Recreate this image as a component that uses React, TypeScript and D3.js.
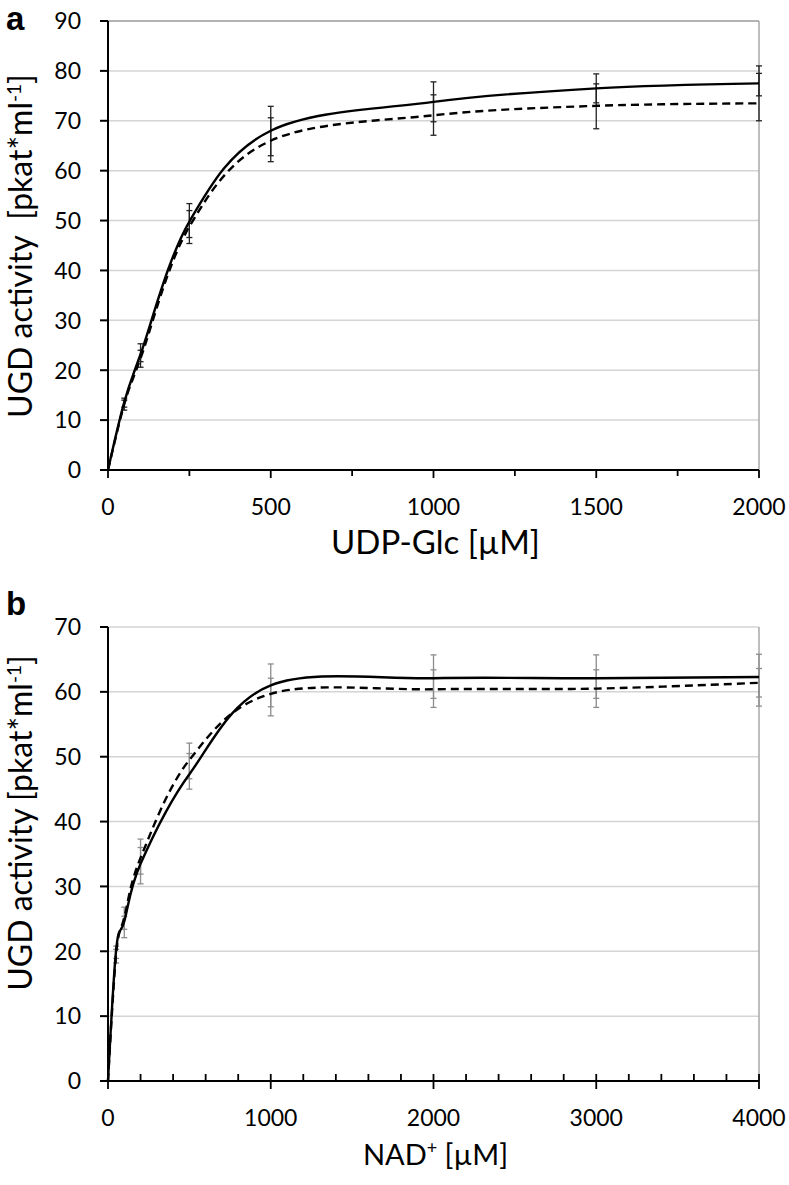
import { useRef, useEffect } from "react";
import * as d3 from "d3";

// Panel a: UDP-Glc series (fitted curves)
const concA = [0, 50, 100, 250, 500, 1000, 1500, 2000];
const solidA = [0, 13.6, 23.2, 49.8, 68.0, 73.8, 76.5, 77.5];
const dashedA = [0, 13.2, 22.4, 48.8, 66.0, 71.1, 73.0, 73.5];
const errXA = [50, 100, 250, 500, 1000, 1500, 2000];
const errOuterA: [number, number][] = [
  [12.0, 14.4], [20.6, 25.3], [45.4, 53.4], [61.8, 72.9], [67.1, 77.8], [68.4, 79.4], [70.0, 81.0],
];
const errInnerA: [number, number][] = [
  [12.6, 14.0], [21.7, 24.0], [46.6, 52.0], [63.0, 70.6], [69.8, 75.2], [73.6, 77.4], [75.0, 79.5],
];
const xTicksA = [0, 500, 1000, 1500, 2000];
const yTicksA = [0, 10, 20, 30, 40, 50, 60, 70, 80, 90];

// Panel b: NAD+ series
const concB = [0, 50, 100, 200, 500, 1000, 2000, 3000, 4000];
const solidB = [0, 20.2, 24.6, 33.5, 47.3, 61.0, 62.1, 62.1, 62.3];
const dashedB = [0, 19.6, 25.2, 34.4, 49.5, 59.7, 60.4, 60.5, 61.4];
const errXB = [50, 100, 200, 500, 1000, 2000, 3000, 4000];
const errOuterB: [number, number][] = [
  [18.2, 20.8], [22.1, 26.8], [30.4, 37.3], [45.0, 52.1], [56.3, 64.3], [57.6, 65.7], [57.6, 65.7], [57.8, 65.8],
];
const errInnerB: [number, number][] = [
  [18.9, 20.3], [23.4, 25.4], [31.9, 36.0], [46.6, 50.5], [57.7, 62.1], [59.0, 63.4], [59.0, 63.4], [59.2, 63.6],
];
const xTicksB = [0, 1000, 2000, 3000, 4000];
const yTicksB = [0, 10, 20, 30, 40, 50, 60, 70];

const FONT = "Lato, 'Open Sans', sans-serif";

interface PanelSpec {
  letter: string;
  letterY: number;
  top: number;
  bottom: number;
  xMax: number;
  yMax: number;
  conc: number[];
  solid: number[];
  dashed: number[];
  errX: number[];
  errOuter: [number, number][];
  errInner: [number, number][];
  xTicks: number[];
  minorStep: number;
  minorInside: boolean;
  yTicks: number[];
  errColor: string;
  topLine: string;
  xTitle: string;
  xTitleSup: string;
  xTitleRest: string;
  xTitleSize: number;
  yTitleGap: string;
  yTitleCenter: number;
}

const LEFT = 108;
const RIGHT = 759;

function drawPanel(svg: d3.Selection<SVGSVGElement, unknown, null, undefined>, p: PanelSpec) {
  const x = d3.scaleLinear().domain([0, p.xMax]).range([LEFT, RIGHT]);
  const y = d3.scaleLinear().domain([0, p.yMax]).range([p.bottom, p.top]);
  const g = svg.append("g");

  // gridlines
  g.selectAll(".grid")
    .data(p.yTicks.slice(1))
    .enter()
    .append("line")
    .attr("x1", LEFT)
    .attr("x2", RIGHT)
    .attr("y1", (d) => y(d))
    .attr("y2", (d) => y(d))
    .attr("stroke", (d) => (d === p.yMax ? p.topLine : "#d4d4d4"))
    .attr("stroke-width", 1.5);

  // right border
  g.append("line")
    .attr("x1", RIGHT)
    .attr("x2", RIGHT)
    .attr("y1", p.top)
    .attr("y2", p.bottom)
    .attr("stroke", "#a8a8a8")
    .attr("stroke-width", 1.5);

  // error bars
  const drawBars = (ranges: [number, number][]) => {
    ranges.forEach(([lo, hi], i) => {
      const cx = x(p.errX[i]);
      g.append("line")
        .attr("x1", cx).attr("x2", cx)
        .attr("y1", y(lo)).attr("y2", y(hi))
        .attr("stroke", p.errColor).attr("stroke-width", 1.3);
      [lo, hi].forEach((v) => {
        g.append("line")
          .attr("x1", cx - 3).attr("x2", cx + 3)
          .attr("y1", y(v)).attr("y2", y(v))
          .attr("stroke", p.errColor).attr("stroke-width", 1.3);
      });
    });
  };
  drawBars(p.errOuter);
  drawBars(p.errInner);

  const line = d3
    .line<number>()
    .x((_, i) => x(p.conc[i]))
    .y((d) => y(d))
    .curve(d3.curveCardinal.tension(0));

  g.append("path")
    .attr("d", line(p.dashed))
    .attr("fill", "none")
    .attr("stroke", "#000")
    .attr("stroke-width", 2.4)
    .attr("stroke-dasharray", "8,5");

  g.append("path")
    .attr("d", line(p.solid))
    .attr("fill", "none")
    .attr("stroke", "#000")
    .attr("stroke-width", 2.4);

  // axes lines
  g.append("line")
    .attr("x1", LEFT).attr("x2", LEFT)
    .attr("y1", p.top).attr("y2", p.bottom)
    .attr("stroke", "#000").attr("stroke-width", 2);
  g.append("line")
    .attr("x1", LEFT).attr("x2", RIGHT)
    .attr("y1", p.bottom).attr("y2", p.bottom)
    .attr("stroke", "#000").attr("stroke-width", 2);

  // y ticks
  p.yTicks.forEach((t) => {
    g.append("line")
      .attr("x1", LEFT - 8).attr("x2", LEFT)
      .attr("y1", y(t)).attr("y2", y(t))
      .attr("stroke", "#000").attr("stroke-width", 2);
    g.append("text")
      .attr("x", 81)
      .attr("y", y(t))
      .attr("dy", "0.36em")
      .attr("text-anchor", "end")
      .attr("font-family", FONT)
      .attr("font-size", "23px")
      .attr("fill", "#000")
      .text(t);
  });

  // x ticks: minor + major
  const minor = d3.range(0, p.xMax + 1, p.minorStep);
  minor.forEach((t) => {
    const isMajor = p.xTicks.includes(t);
    const y1 = p.minorInside ? p.bottom - 7 : p.bottom;
    const y2 = p.minorInside ? (isMajor ? p.bottom + 8 : p.bottom) : p.bottom + (isMajor ? 8 : 6);
    g.append("line")
      .attr("x1", x(t)).attr("x2", x(t))
      .attr("y1", y1).attr("y2", y2)
      .attr("stroke", "#000").attr("stroke-width", 1.8);
  });
  p.xTicks.forEach((t) => {
    g.append("text")
      .attr("x", x(t))
      .attr("y", p.bottom + 45)
      .attr("text-anchor", "middle")
      .attr("font-family", FONT)
      .attr("font-size", "23px")
      .attr("fill", "#000")
      .text(t);
  });

  // x title
  const supSize = Math.round(p.xTitleSize * 0.62);
  const xt = g.append("text")
    .attr("x", (LEFT + RIGHT) / 2 + 2)
    .attr("y", p.bottom + 84)
    .attr("text-anchor", "middle")
    .attr("font-family", FONT)
    .attr("font-size", `${p.xTitleSize}px`)
    .attr("fill", "#000");
  xt.append("tspan").text(p.xTitle);
  if (p.xTitleSup) {
    xt.append("tspan").attr("font-size", `${supSize}px`).attr("dy", -11).text(p.xTitleSup);
    xt.append("tspan").attr("dy", 11).text(p.xTitleRest);
  }

  // y title
  const yt = g.append("text")
    .attr("transform", `translate(32,${p.yTitleCenter}) rotate(-90)`)
    .attr("text-anchor", "middle")
    .attr("font-family", FONT)
    .attr("font-size", "32px")
    .attr("fill", "#000");
  yt.append("tspan").text(`UGD activity${p.yTitleGap}[pkat*ml`);
  yt.append("tspan").attr("font-size", "19px").attr("dy", -11).text("-1");
  yt.append("tspan").attr("dy", 11).text("]");

  // panel letter
  svg.append("text")
    .attr("x", 6)
    .attr("y", p.letterY)
    .attr("font-family", "'Liberation Sans', Arial, sans-serif")
    .attr("font-weight", "700")
    .attr("font-size", "33px")
    .attr("fill", "#000")
    .text(p.letter);
}

export default function App() {
  const svgRef = useRef<SVGSVGElement>(null);

  useEffect(() => {
    if (!svgRef.current) return;
    const svg = d3.select(svgRef.current);
    svg.selectAll("*").remove();

    drawPanel(svg, {
      letter: "a",
      letterY: 30,
      top: 21,
      bottom: 470,
      xMax: 2000,
      yMax: 90,
      conc: concA,
      solid: solidA,
      dashed: dashedA,
      errX: errXA,
      errOuter: errOuterA,
      errInner: errInnerA,
      xTicks: xTicksA,
      minorStep: 250,
      minorInside: false,
      yTicks: yTicksA,
      errColor: "#222",
      topLine: "#9a9a9a",
      xTitle: "UDP-Glc [µM]",
      xTitleSup: "",
      xTitleRest: "",
      xTitleSize: 33,
      yTitleGap: "\u00A0\u00A0",
      yTitleCenter: 246,
    });

    drawPanel(svg, {
      letter: "b",
      letterY: 615,
      top: 627,
      bottom: 1081,
      xMax: 4000,
      yMax: 70,
      conc: concB,
      solid: solidB,
      dashed: dashedB,
      errX: errXB,
      errOuter: errOuterB,
      errInner: errInnerB,
      xTicks: xTicksB,
      minorStep: 200,
      minorInside: true,
      yTicks: yTicksB,
      errColor: "#8c8c8c",
      topLine: "#d4d4d4",
      xTitle: "NAD",
      xTitleSup: "+",
      xTitleRest: " [µM]",
      xTitleSize: 29,
      yTitleGap: " ",
      yTitleCenter: 823,
    });
  }, []);

  return (
    <svg
      ref={svgRef}
      width={789}
      height={1185}
      style={{ position: "absolute", left: 0, top: 0, background: "#fff" }}
      role="img"
      aria-label="UGD activity versus UDP-Glc and NAD+ concentration"
    />
  );
}
